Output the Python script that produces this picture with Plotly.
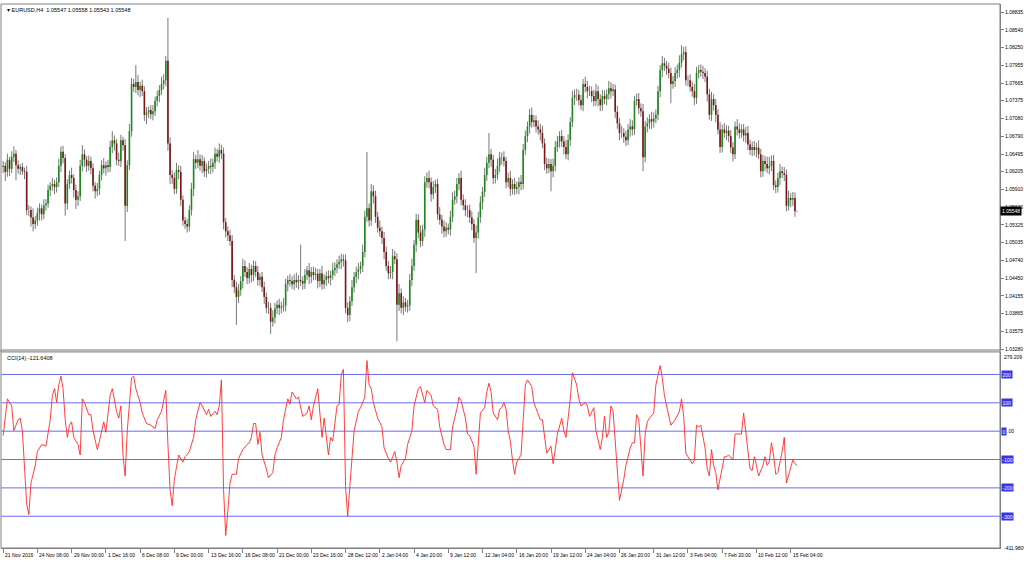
import plotly.graph_objects as go

# ---------------- data (prices in pips above 1.0000, i.e. 630 -> 1.0630) -------------
first_open = 628
closes = [
    630, 620, 640, 625, 645, 650, 631, 625, 628, 621,
    620, 557, 557, 545, 534, 540, 552, 560, 550, 565,
    568, 590, 597, 600, 595, 603, 630, 653, 643, 568,
    600, 615, 610, 590, 574, 580, 630, 649, 640, 630,
    638, 626, 597, 588, 592, 615, 631, 626, 631, 628,
    661, 672, 667, 640, 638, 672, 664, 564, 631, 687,
    765, 760, 768, 755, 762, 753, 714, 718, 722, 715,
    720, 737, 745, 755, 765, 771, 803, 667, 615, 610,
    592, 623, 620, 574, 540, 534, 530, 557, 592, 641,
    635, 641, 630, 638, 621, 625, 630, 628, 635, 650,
    645, 656, 650, 537, 522, 515, 506, 442, 430, 414,
    425, 440, 465, 455, 445, 460, 450, 465, 455, 442,
    447, 430, 414, 396, 396, 373, 380, 395, 401, 396,
    398, 400, 435, 442, 440, 435, 442, 438, 442, 440,
    436, 450, 458, 447, 455, 450, 452, 440, 453, 435,
    442, 448, 445, 450, 458, 462, 468, 472, 476, 474,
    396, 384, 407, 430, 447, 455, 460, 465, 488, 546,
    560, 540, 588, 580, 546, 528, 522, 511, 488, 465,
    453, 455, 481, 476, 401, 420, 396, 405, 398, 400,
    442, 465, 500, 541, 520, 506, 525, 603, 610, 603,
    583, 595, 600, 550, 541, 530, 522, 528, 525, 546,
    574, 580, 600, 610, 574, 565, 557, 557, 545, 534,
    511, 520, 545, 570, 587, 615, 635, 649, 640, 610,
    615, 630, 644, 644, 638, 603, 610, 592, 600, 592,
    595, 603, 600, 656, 679, 695, 714, 702, 705, 695,
    690, 684, 667, 633, 626, 633, 621, 630, 661, 670,
    679, 670, 661, 649, 672, 702, 742, 747, 747, 738,
    730, 765, 760, 753, 753, 745, 737, 753, 740, 730,
    745, 740, 748, 758, 753, 756, 719, 700, 684, 684,
    678, 672, 690, 695, 690, 737, 740, 725, 720, 644,
    695, 700, 707, 703, 708, 714, 753, 788, 799, 795,
    790, 783, 765, 770, 783, 788, 800, 814, 817, 771,
    771, 760, 753, 742, 783, 788, 785, 783, 777, 748,
    714, 740, 730, 714, 690, 661, 690, 684, 688, 679,
    660, 649, 695, 690, 684, 690, 680, 684, 665, 656,
    661, 656, 660, 649, 621, 638, 633, 626, 630, 638,
    598, 595, 610, 621, 618, 615, 564, 577, 574, 577,
    555, 555,
]
wick_up = [
    8, 6, 10, 5, 9, 12, 6, 8, 5, 7,
    6, 10, 8, 6, 15, 7, 9, 8, 6, 10,
    7, 9, 6, 10, 7, 8, 12, 9, 10, 6,
    8, 7, 12, 6, 9, 8, 10, 15, 8, 6,
    9, 7, 8, 6, 10, 7, 8, 12, 6, 9,
    10, 15, 8, 7, 12, 9, 6, 10, 8, 12,
    10, 8, 28, 12, 7, 10, 8, 9, 6, 8,
    10, 7, 9, 8, 12, 10, 8, 71, 10, 8,
    9, 12, 8, 10, 7, 6, 9, 8, 10, 12,
    7, 15, 8, 10, 6, 9, 8, 12, 7, 10,
    8, 11, 9, 10, 7, 8, 9, 10, 8, 9,
    10, 8, 12, 9, 8, 10, 7, 9, 8, 10,
    6, 8, 9, 7, 10, 8, 12, 9, 7, 10,
    8, 12, 9, 7, 10, 8, 9, 12, 8, 58,
    8, 10, 7, 12, 8, 9, 10, 8, 7, 12,
    9, 8, 10, 7, 12, 9, 8, 10, 9, 8,
    10, 9, 8, 12, 8, 9, 10, 7, 12, 10,
    93, 8, 12, 10, 9, 8, 12, 8, 10, 9,
    8, 10, 12, 9, 10, 15, 8, 10, 7, 9,
    10, 12, 8, 10, 9, 12, 8, 10, 9, 12,
    8, 10, 7, 9, 12, 8, 10, 9, 7, 10,
    12, 9, 10, 8, 12, 9, 10, 8, 9, 10,
    8, 12, 9, 10, 8, 12, 10, 35, 9, 8,
    10, 12, 9, 8, 10, 7, 9, 12, 8, 10,
    9, 8, 12, 10, 9, 8, 10, 12, 9, 8,
    10, 9, 12, 8, 10, 9, 8, 12, 10, 9,
    8, 10, 9, 12, 10, 8, 12, 9, 10, 8,
    9, 8, 12, 10, 9, 8, 10, 12, 9, 8,
    10, 9, 8, 12, 10, 9, 8, 10, 9, 12,
    8, 10, 9, 12, 10, 8, 9, 10, 8, 12,
    9, 10, 8, 12, 10, 9, 9, 8, 12, 9,
    8, 10, 9, 8, 10, 9, 12, 15, 9, 10,
    8, 10, 9, 12, 10, 8, 9, 10, 8, 10,
    9, 12, 8, 10, 9, 12, 8, 10, 9, 8,
    10, 9, 8, 12, 10, 8, 9, 10, 12, 8,
    9, 10, 8, 12, 9, 10, 8, 12, 15, 9,
    10, 8, 9, 12, 8, 10, 9, 12, 8, 10,
    9, 1,
]
wick_dn = [
    10, 15, 8, 12, 7, 9, 25, 8, 10, 6,
    12, 8, 10, 15, 12, 8, 9, 12, 10, 8,
    9, 7, 10, 8, 12, 9, 8, 10, 9, 20,
    10, 8, 9, 12, 15, 10, 8, 9, 12, 10,
    8, 10, 9, 12, 8, 10, 9, 8, 12, 9,
    8, 10, 12, 9, 8, 10, 9, 58, 10, 8,
    9, 8, 10, 9, 12, 8, 10, 15, 9, 8,
    10, 8, 9, 10, 8, 9, 10, 12, 15, 10,
    9, 8, 12, 10, 9, 8, 10, 8, 9, 12,
    10, 9, 8, 12, 9, 10, 8, 12, 9, 10,
    8, 10, 9, 12, 10, 9, 8, 12, 10, 46,
    10, 9, 12, 8, 10, 9, 12, 10, 8, 9,
    10, 8, 12, 9, 10, 20, 8, 10, 9, 12,
    9, 8, 10, 12, 9, 8, 10, 9, 12, 8,
    10, 9, 8, 12, 10, 9, 8, 12, 10, 9,
    8, 10, 9, 12, 8, 10, 9, 8, 12, 10,
    9, 12, 10, 8, 9, 10, 12, 8, 10, 9,
    8, 10, 9, 12, 10, 8, 9, 10, 12, 8,
    10, 9, 12, 8, 60, 10, 9, 12, 8, 10,
    9, 10, 8, 12, 9, 10, 8, 12, 9, 10,
    12, 8, 10, 9, 8, 12, 10, 9, 8, 10,
    9, 8, 12, 10, 9, 8, 10, 12, 9, 10,
    8, 58, 10, 9, 12, 8, 10, 9, 12, 10,
    9, 8, 10, 12, 9, 10, 8, 12, 9, 10,
    8, 12, 10, 9, 8, 10, 12, 9, 8, 10,
    9, 12, 8, 10, 9, 8, 33, 10, 9, 8,
    10, 9, 12, 8, 10, 9, 8, 12, 10, 9,
    8, 10, 9, 12, 8, 10, 9, 8, 12, 10,
    9, 8, 10, 9, 12, 8, 10, 9, 12, 8,
    10, 9, 8, 12, 10, 9, 8, 10, 9, 23,
    8, 10, 9, 12, 10, 8, 9, 10, 12, 9,
    10, 9, 32, 8, 10, 9, 12, 8, 10, 9,
    10, 8, 9, 12, 10, 9, 8, 10, 9, 12,
    8, 10, 9, 12, 8, 10, 9, 8, 12, 10,
    9, 12, 8, 10, 9, 8, 10, 12, 9, 8,
    10, 9, 12, 8, 10, 9, 12, 8, 10, 9,
    8, 10, 9, 12, 8, 10, 9, 8, 12, 10,
    9, 1,
]

# CCI(14) readings: bar index and value
cci_bar = [
    0, 1, 2, 4, 5, 7, 8, 9, 10, 11, 12, 13, 15, 16, 18, 20, 22, 23, 24, 25,
    26, 27, 28, 29, 30, 31, 32, 33, 35, 36, 37, 38, 40, 41, 42, 44, 45, 47, 48, 50,
    51, 53, 54, 55, 56, 57, 58, 59, 60, 61, 62, 64, 65, 67, 69, 71, 72, 74, 75, 76,
    77, 78, 79, 80, 81, 82, 84, 85, 87, 89, 90, 92, 93, 95, 96, 97, 99, 100, 101, 102,
    103, 104, 105, 106, 107, 109, 110, 112, 114, 115, 116, 117, 118, 119, 120, 121, 123, 124, 126, 127,
    128, 130, 131, 133, 134, 135, 137, 138, 140, 142, 143, 144, 145, 147, 148, 149, 150, 152, 153, 154,
    156, 157, 158, 159, 160, 161, 162, 163, 164, 166, 167, 169, 170, 171, 172, 173, 175, 177, 178, 180,
    181, 183, 184, 185, 186, 188, 189, 191, 192, 194, 195, 197, 198, 200, 201, 203, 204, 206, 207, 209,
    210, 212, 213, 214, 216, 217, 218, 220, 221, 222, 223, 225, 226, 227, 228, 229, 231, 232, 233, 234,
    235, 236, 237, 238, 239, 240, 242, 243, 244, 245, 247, 248, 250, 251, 252, 253, 254, 256, 257, 259,
    261, 262, 263, 265, 266, 268, 269, 270, 272, 273, 274, 276, 277, 279, 280, 281, 282, 283, 284, 285,
    287, 288, 290, 291, 293, 294, 295, 296, 297, 298, 299, 300, 301, 302, 304, 305, 307, 308, 309, 310,
    312, 314, 316, 317, 318, 319, 320, 322, 323, 324, 325, 326, 328, 329, 330, 331, 332, 333, 334, 336,
    337, 338, 339, 341, 342, 344, 345, 346, 347, 349, 350, 351, 352, 353, 355, 356, 357, 358, 359, 360,
    361, 362, 364, 365, 366, 367, 368, 369, 370, 371,
]
cci_val = [
    -16, 52, 114, 89, 2, 40, 46, 0, -133, -257, -294, -183, -121, -72, -47, -53, 40, 126, 150, 101,
    163, 194, 150, 40, -22, 21, 33, -22, -47, -84, 114, 101, 58, 58, 2, -65, -35, 33, -4, 126,
    150, 70, 46, 89, -84, -158, 2, 114, 188, 194, 150, 101, 64, 27, 21, 9, 40, 70, 114, 144,
    -47, -207, -263, -170, -127, -84, -109, -90, -72, -22, 40, 101, 89, 58, 77, 52, 70, 58, 89, 181,
    -207, -368, -281, -183, -152, -152, -96, -65, -47, -41, -22, 27, 27, -47, -4, -84, -133, -164, -146, -84,
    -59, -22, 40, 114, 95, 138, 114, 120, 52, 64, 89, 40, 89, 150, 64, -22, 46, -84, -22, -35,
    89, 95, 200, 218, -195, -300, -195, -84, 2, 70, 83, 120, 249, 163, 150, 101, 46, 15, -59, -96,
    -109, -72, -109, -164, -121, -96, -47, 2, 89, 150, 157, 101, 144, 126, 89, 77, 15, -47, -65, -65,
    15, 77, 120, 107, 46, -10, -16, -53, -152, -47, 64, 83, 138, 169, 138, 64, 40, 77, 83, 101,
    77, 2, -35, -102, -152, -109, -84, 40, 163, 181, 157, 101, 64, 40, 40, -28, -78, -53, -115, -10,
    46, 2, -22, 114, 206, 163, 114, 89, 101, 89, 52, 83, 2, -65, -22, 52, -22, -4, 89, 70,
    -133, -244, -170, -121, -59, -41, -41, 58, 40, -59, -158, -10, 33, 46, 64, 163, 231, 188, 126, 89,
    21, 40, 70, 114, 52, -78, -90, -115, -102, 21, 15, 21, -59, -133, -158, -65, -121, -146, -207, -133,
    -90, -90, -84, -102, -10, -10, -10, 64, -10, -133, -139, -90, -121, -158, -121, -90, -121, -109, -41, -84,
    -152, -146, -72, -22, -183, -158, -127, -102, -115, -121.6408,
]

price_ticks = [1.08835, 1.08540, 1.08250, 1.07955, 1.07665, 1.07375, 1.07080, 1.06790,
               1.06495, 1.06205, 1.05910, 1.05620, 1.05325, 1.05035, 1.04740, 1.04450,
               1.04155, 1.03865, 1.03575, 1.03280]
cci_levels = [200, 100, 0, -100, -200, -300]
cci_level_text = ["200", "100", "0", "-100", "-200", "-300"]
cci_min, cci_max = -411.9809, 279.209
price_min, price_max = 1.03265, 1.08967

time_label_bar = [0, 16, 32, 48, 64, 80, 96, 112, 128, 144, 160, 176, 192, 208, 224,
                  240, 256, 272, 288, 304, 320, 336, 352, 368]
time_labels = ["21 Nov 2016", "24 Nov 08:00", "29 Nov 00:00", "1 Dec 16:00", "6 Dec 08:00",
               "9 Dec 00:00", "13 Dec 16:00", "16 Dec 08:00", "21 Dec 00:00", "23 Dec 16:00",
               "28 Dec 12:00", "2 Jan 04:00", "4 Jan 20:00", "9 Jan 12:00", "12 Jan 04:00",
               "16 Jan 20:00", "19 Jan 12:00", "24 Jan 04:00", "26 Jan 20:00", "31 Jan 12:00",
               "3 Feb 04:00", "7 Feb 20:00", "10 Feb 12:00", "15 Feb 04:00"]
last_price = 1.05548

# ---------------- build OHLC table ----------------
def px(v):
    return 1 + v / 10000.0

n = len(closes)
opens = [first_open] + closes[:-1]
highs = [max(o, c) + u for o, c, u in zip(opens, closes, wick_up)]
lows = [min(o, c) - d for o, c, d in zip(opens, closes, wick_dn)]

wx, wy = [], []
bull_x, bull_y, bear_x, bear_y = [], [], [], []
for i in range(n):
    wx += [i, i, None]
    wy += [px(lows[i]), px(highs[i]), None]
    o, c = opens[i], closes[i]
    if c >= o:
        bull_x += [i, i, None]
        bull_y += [px(o), px(c), None]
    else:
        bear_x += [i, i, None]
        bear_y += [px(o), px(c), None]

xr = [-1.0, 465.8]
FONT = "Liberation Sans, Arial, sans-serif"
LEVEL_COLOR = "#6a6af6"
fig = go.Figure()
fig.add_trace(go.Scatter(x=wx, y=wy, mode="lines", line=dict(color="#555555", width=0.8),
                         hoverinfo="skip", xaxis="x", yaxis="y", showlegend=False))
fig.add_trace(go.Scatter(x=bull_x, y=bull_y, mode="lines", line=dict(color="#1b8a1b", width=1.6),
                         hoverinfo="skip", xaxis="x", yaxis="y", showlegend=False))
fig.add_trace(go.Scatter(x=bear_x, y=bear_y, mode="lines", line=dict(color="#7d1414", width=1.6),
                         hoverinfo="skip", xaxis="x", yaxis="y", showlegend=False))
fig.add_trace(go.Scatter(x=cci_bar, y=cci_val, mode="lines", line=dict(color="#ff2a2a", width=0.9),
                         hoverinfo="skip", xaxis="x2", yaxis="y2", showlegend=False))

fig.update_layout(
    width=1024, height=561,
    margin=dict(l=1, r=24, t=4, b=13),
    paper_bgcolor="white", plot_bgcolor="white",
    hovermode=False,
    font=dict(family=FONT, size=5, color="black"),
    xaxis=dict(domain=[0, 1], range=xr, showticklabels=False, ticks="", showgrid=False,
               zeroline=False, anchor="y"),
    yaxis=dict(domain=[0.364, 1], range=[price_min, price_max], side="right",
               tickvals=price_ticks, ticktext=[f"{v:.5f}" for v in price_ticks],
               ticks="outside", ticklen=3, tickcolor="#808080", showgrid=False, zeroline=False,
               showline=True, linecolor="#808080", linewidth=1,
               tickfont=dict(size=5, family=FONT, color="black"), anchor="x"),
    xaxis2=dict(domain=[0, 1], range=xr, tickvals=time_label_bar, showticklabels=False,
                ticks="outside", ticklen=4, tickcolor="#808080", showgrid=False, zeroline=False,
                showline=True, linecolor="#808080", anchor="y2"),
    yaxis2=dict(domain=[0, 0.3603], range=[cci_min, cci_max], side="right",
                showticklabels=False, ticks="", showgrid=False, zeroline=False,
                showline=True, linecolor="#808080", anchor="x2"),
)

shapes = [
    dict(type="rect", xref="paper", yref="paper", x0=0, x1=1, y0=0, y1=1,
         line=dict(color="#808080", width=1)),
    dict(type="rect", xref="paper", yref="paper", x0=0, x1=1, y0=0.3603, y1=0.364,
         line=dict(color="#8a8a8a", width=1), fillcolor="#d6d6d6"),
]
for lv in cci_levels:
    shapes.append(dict(type="line", xref="x2", yref="y2", x0=xr[0], x1=xr[1], y0=lv, y1=lv,
                       layer="below", line=dict(color=LEVEL_COLOR, width=1)))
fig.update_layout(shapes=shapes)

ann = [
    dict(text="▾ EURUSD,H4  1.05547 1.05558 1.05543 1.05548", xref="paper", yref="paper",
         x=0.004, y=1, xanchor="left", yanchor="top", yshift=-1, showarrow=False,
         font=dict(size=5.5, family=FONT, color="black")),
    dict(text="CCI(14) -121.6408", xref="paper", yref="paper", x=0.004, y=0.3603,
         xanchor="left", yanchor="top", yshift=-1, showarrow=False,
         font=dict(size=5.5, family=FONT, color="black")),
    dict(text=f"{cci_max:.3f}", xref="paper", yref="paper", x=1, y=0.3603, xanchor="left",
         yanchor="top", xshift=2, showarrow=False, font=dict(size=5, family=FONT, color="black")),
    dict(text=f"{cci_min:.4f}", xref="paper", yref="paper", x=1, y=0, xanchor="left",
         yanchor="middle", xshift=2, showarrow=False, font=dict(size=5, family=FONT, color="black")),
    dict(text=f"{last_price:.5f}", xref="paper", yref="y", x=1, y=last_price, xanchor="left",
         yanchor="middle", xshift=0, showarrow=False, bgcolor="black", borderpad=1,
         font=dict(size=5, family=FONT, color="white")),
    dict(text=".00", xref="paper", yref="y2", x=1, y=0, xanchor="left", yanchor="middle",
         xshift=5, showarrow=False, font=dict(size=5, family=FONT, color="black")),
]
for lv, tx in zip(cci_levels, cci_level_text):
    ann.append(dict(text=tx, xref="paper", yref="y2", x=1, y=lv, xanchor="left",
                    yanchor="middle", xshift=1, showarrow=False, bgcolor="#3535e8", borderpad=0.5,
                    font=dict(size=5, family=FONT, color="white")))
for b, tx in zip(time_label_bar, time_labels):
    ann.append(dict(text=tx, xref="x2", yref="paper", x=b, y=0, xanchor="left", yanchor="top",
                    xshift=0, yshift=-2, showarrow=False,
                    font=dict(size=5, family=FONT, color="black")))
fig.update_layout(annotations=ann)

fig.write_html("out.html", config={"displayModeBar": False, "staticPlot": True},
               post_script="document.body.style.margin='0';document.body.style.padding='0';"
                           "document.body.style.overflow='hidden';")
